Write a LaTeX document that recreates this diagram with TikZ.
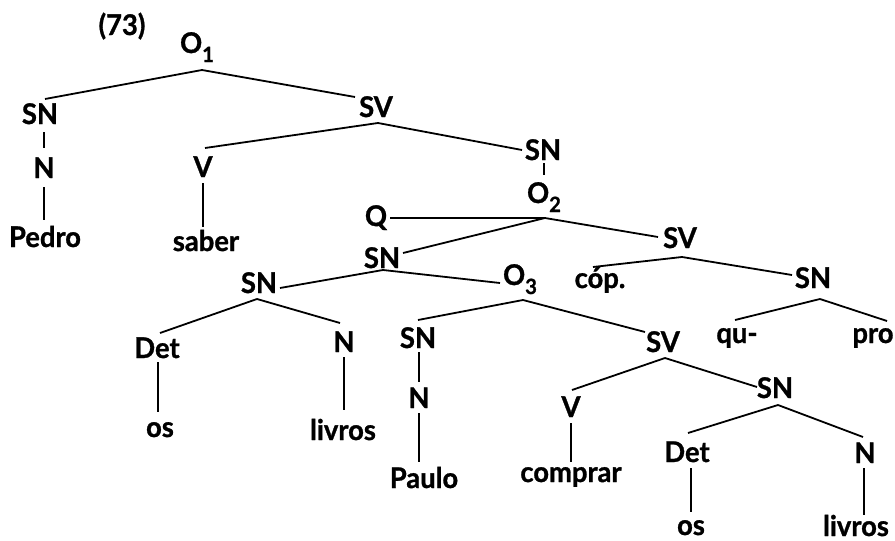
\documentclass[tikz,border=0pt]{standalone}
\usepackage{fontspec}
\setmainfont{Lato}[FakeStretch=0.96,BoldFont={Lato Bold},BoldFeatures={FakeBold=1.0}]
\newcommand{\sbs}[1]{\raisebox{-9pt}{\fontsize{21}{21}\selectfont #1}}
\newcommand{\br}[4]{\draw ([shift={#2}]#1.base) -- ([shift={#4}]#3.base);}
\begin{document}
\begin{tikzpicture}[x=1pt,y=-1pt,
  lab/.style={anchor=base,inner sep=0pt,font=\fontsize{28.5}{30}\selectfont\bfseries},
  every path/.style={line width=1.8pt}]
\useasboundingbox (0,0) rectangle (895,541);
\node[lab] (n73) at (122,35) {(73)};
\node[lab] (O1) at (197,53) {O\sbs{1}};
\node[lab] (SN1) at (40,124) {SN};
\node[lab] (N1) at (44,178) {N};
\node[lab] (Pedro) at (45,247) {Pedro};
\node[lab] (SV1) at (376,117) {SV};
\node[lab] (V1) at (203,177) {V};
\node[lab] (saber) at (206,251) {saber};
\node[lab] (SNa) at (543,160) {SN};
\node[lab] (O2) at (544,203) {O\sbs{2}};
\node[lab] (Q) at (376,226) {Q};
\node[lab] (SNb) at (382,268) {SN};
\node[lab] (SVb) at (680,248) {SV};
\node[lab] (cop) at (600,288) {cóp.};
\node[lab] (SNc) at (813,288) {SN};
\node[lab] (qu) at (737,343) {qu-};
\node[lab] (pro) at (873,343) {pro};
\node[lab] (SNd) at (259,293) {SN};
\node[lab] (O3) at (520,285) {O\sbs{3}};
\node[lab] (Detd) at (157,358) {Det};
\node[lab] (Nd) at (344,352) {N};
\node[lab] (osd) at (160,437) {os};
\node[lab] (livrosd) at (343,440) {livros};
\node[lab] (SNe) at (418,348) {SN};
\node[lab] (Ne) at (419,408) {N};
\node[lab] (Paulo) at (424,488) {Paulo};
\node[lab] (SVe) at (663,352) {SV};
\node[lab] (Ve) at (571,417) {V};
\node[lab] (comprar) at (571,482) {comprar};
\node[lab] (SNf) at (775,398) {SN};
\node[lab] (Detf) at (687,462) {Det};
\node[lab] (Nf) at (865,463) {N};
\node[lab] (osf) at (691,535) {os};
\node[lab] (livrosf) at (856,536) {livros};
% connectors
\br{O1}{(5,17)}{SN1}{(5,-25)}
\br{O1}{(5,17)}{SV1}{(-21,-20)}
\br{SN1}{(4,8)}{N1}{(0,-30)}
\br{N1}{(0,9)}{Pedro}{(-1,-27)}
\br{SV1}{(2,6)}{V1}{(2,-29)}
\br{SV1}{(2,6)}{SNa}{(-21,-10)}
\br{V1}{(0,6)}{saber}{(-3,-24)}
\br{SNa}{(1,3)}{O2}{(0,-28)}
\br{O2}{(1,15)}{Q}{(14,-8)}
\br{O2}{(1,15)}{SNb}{(21,-15)}
\br{O2}{(1,15)}{SVb}{(-22,-11)}
\br{SVb}{(2,9)}{cop}{(-7,-21)}
\br{SVb}{(2,9)}{SNc}{(-21,-13)}
\br{SNc}{(7,11)}{qu}{(-2,-23)}
\br{SNc}{(7,11)}{pro}{(14,-22)}
\br{SNb}{(1,2)}{SNd}{(21,-5)}
\br{SNb}{(1,2)}{O3}{(-20,-2)}
\br{SNd}{(-2,6)}{Detd}{(3,-25)}
\br{SNd}{(-2,6)}{Nd}{(-4,-29)}
\br{Detd}{(1,4)}{osd}{(-2,-25)}
\br{Nd}{(0,5)}{livrosd}{(1,-30)}
\br{O3}{(3,15)}{SNe}{(0,-28)}
\br{O3}{(3,15)}{SVe}{(-18,-20)}
\br{SNe}{(1,4)}{Ne}{(0,-26)}
\br{Ne}{(0,5)}{Paulo}{(-5,-26)}
\br{SVe}{(2,6)}{Ve}{(1,-27)}
\br{SVe}{(2,6)}{SNf}{(-18,-11)}
\br{Ve}{(0,6)}{comprar}{(0,-20)}
\br{SNf}{(3,7)}{Detf}{(1,-29)}
\br{SNf}{(3,7)}{Nf}{(-2,-26)}
\br{Detf}{(4,6)}{osf}{(0,-23)}
\br{Nf}{(-1,5)}{livrosf}{(8,-21)}
\end{tikzpicture}
\end{document}
